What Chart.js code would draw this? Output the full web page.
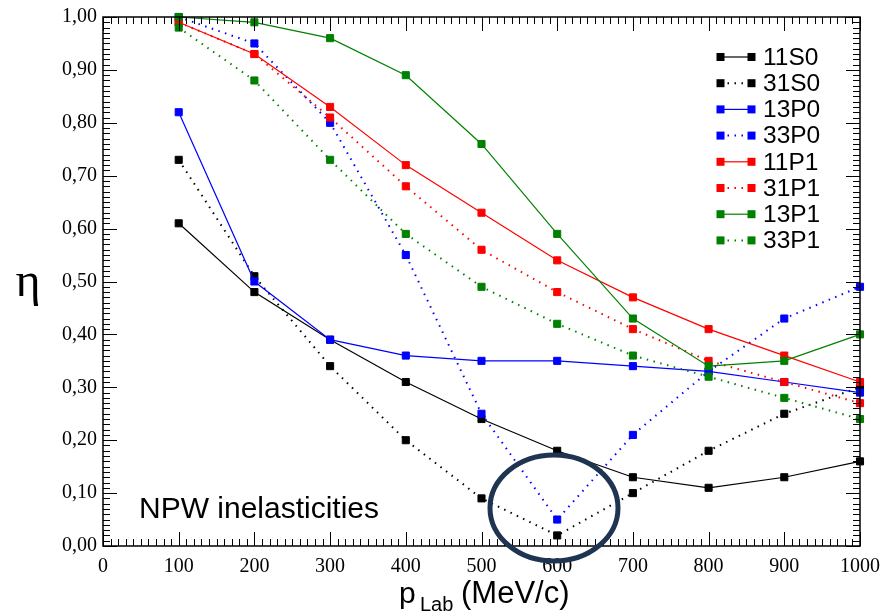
<!DOCTYPE html>
<html>
<head>
<meta charset="utf-8">
<script src="https://cdn.jsdelivr.net/npm/chart.js@4.4.1/dist/chart.umd.min.js"></script>
<style>
html,body{margin:0;padding:0;background:#fff;}
#wrap{width:885px;height:614px;position:relative;}
</style>
</head>
<body>
<div id="wrap"><canvas id="c" width="885" height="614"></canvas></div>
<script>
// ---- data ----
const pLab = [100, 200, 300, 400, 500, 600, 700, 800, 900, 1000];
const s11S0 = [0.61, 0.48, 0.39, 0.31, 0.24, 0.18, 0.13, 0.11, 0.13, 0.16];
const s31S0 = [0.73, 0.51, 0.34, 0.20, 0.09, 0.02, 0.10, 0.18, 0.25, 0.30];
const s13P0 = [0.82, 0.50, 0.39, 0.36, 0.35, 0.35, 0.34, 0.33, 0.31, 0.29];
const s33P0 = [1.00, 0.95, 0.80, 0.55, 0.25, 0.05, 0.21, 0.33, 0.43, 0.49];
const s11P1 = [0.99, 0.93, 0.83, 0.72, 0.63, 0.54, 0.47, 0.41, 0.36, 0.31];
const s31P1 = [0.99, 0.93, 0.81, 0.68, 0.56, 0.48, 0.41, 0.35, 0.31, 0.27];
const s13P1 = [1.00, 0.99, 0.96, 0.89, 0.76, 0.59, 0.43, 0.34, 0.35, 0.40];
const s33P1 = [0.98, 0.88, 0.73, 0.59, 0.49, 0.42, 0.36, 0.32, 0.28, 0.24];
const seriesNames = ['11S0', '31S0', '13P0', '33P0', '11P1', '31P1', '13P1', '33P1'];
const seriesValues = [s11S0, s31S0, s13P0, s33P0, s11P1, s31P1, s13P1, s33P1];
const xTickValues = [0, 100, 200, 300, 400, 500, 600, 700, 800, 900, 1000];
const yTickValues = [0, 0.1, 0.2, 0.3, 0.4, 0.5, 0.6, 0.7, 0.8, 0.9, 1.0];
const annotationText = 'NPW inelasticities';
const yTitle = '\u03b7';

// ---- styles ----
const colors = ['#000000', '#000000', '#0000ff', '#0000ff', '#ff0000', '#ff0000', '#008000', '#008000'];
const dotted = [false, true, false, true, false, true, false, true];
const DOT = [1.5, 5.5];

const datasets = seriesNames.map((name, i) => ({
  label: name,
  data: pLab.map((x, k) => ({x: x, y: seriesValues[i][k]})),
  borderColor: colors[i],
  backgroundColor: colors[i],
  borderWidth: dotted[i] ? 2 : 1.2,
  borderDash: dotted[i] ? DOT : [],
  borderCapStyle: 'butt',
  pointStyle: 'rect',
  pointRadius: 5,
  pointBorderWidth: 1,
  pointBorderColor: colors[i],
  pointBackgroundColor: colors[i],
  tension: 0,
  clip: false,
  order: seriesNames.length - 1 - i
}));

const SERIF = '"Liberation Serif", "Times New Roman", serif';
const SANS = '"Liberation Sans", Arial, sans-serif';

const decor = {
  id: 'decor',
  afterDraw(chart) {
    const ctx = chart.ctx;
    const xs = chart.scales.x, ys = chart.scales.y;
    const a = chart.chartArea;
    ctx.save();
    // frame
    ctx.strokeStyle = '#000';
    ctx.lineWidth = 1.5;
    ctx.strokeRect(a.left, a.top, a.right - a.left, a.bottom - a.top);
    // ticks
    ctx.lineWidth = 1;
    ctx.beginPath();
    for (let v = 0; v <= 1000; v += 10) {
      const px = Math.round(xs.getPixelForValue(v)) + 0.5;
      const L = (v % 100 === 0) ? 14 : 7;
      ctx.moveTo(px, a.bottom); ctx.lineTo(px, a.bottom - L);
      ctx.moveTo(px, a.top); ctx.lineTo(px, a.top + L);
    }
    for (let k = 0; k <= 100; k++) {
      const py = Math.round(ys.getPixelForValue(k / 100)) + 0.5;
      const L = (k % 10 === 0) ? 14 : 7;
      ctx.moveTo(a.left, py); ctx.lineTo(a.left + L, py);
      ctx.moveTo(a.right, py); ctx.lineTo(a.right - L, py);
    }
    ctx.stroke();

    // legend
    const lx1 = 720.5, lx2 = 751.5, ly0 = 57, dy = 26.2;
    chart.data.datasets.forEach((ds, i) => {
      const y = ly0 + i * dy;
      ctx.strokeStyle = ds.borderColor;
      ctx.lineWidth = ds.borderWidth;
      ctx.setLineDash(ds.borderDash || []);
      ctx.beginPath();
      ctx.moveTo(lx1, y); ctx.lineTo(lx2, y);
      ctx.stroke();
      ctx.setLineDash([]);
      ctx.fillStyle = ds.borderColor;
      ctx.fillRect(lx1 - 4, y - 4, 8, 8);
      ctx.fillRect(lx2 - 4, y - 4, 8, 8);
      ctx.fillStyle = '#000';
      ctx.font = '24.5px ' + SANS;
      ctx.textAlign = 'left';
      ctx.textBaseline = 'middle';
      ctx.fillText(ds.label, 763, y + 1);
    });

    // annotation text
    ctx.fillStyle = '#000';
    ctx.font = '30px ' + SANS;
    ctx.textAlign = 'left';
    ctx.textBaseline = 'alphabetic';
    ctx.fillText(annotationText, 139, 518);

    // y title
    ctx.font = '48px ' + SERIF;
    ctx.textAlign = 'center';
    ctx.fillText(yTitle, 28, 296);

    // x title with subscript
    ctx.textAlign = 'left';
    ctx.font = '30px ' + SANS;
    ctx.fillText('p', 399, 603);
    ctx.font = '20px ' + SANS;
    ctx.fillText('Lab', 420, 611);
    ctx.font = '31px ' + SANS;
    ctx.fillText('(MeV/c)', 461, 603);

    // highlight ellipse
    ctx.strokeStyle = '#1e3450';
    ctx.lineWidth = 5;
    ctx.beginPath();
    ctx.ellipse(554, 508, 64, 53, 0, 0, Math.PI * 2);
    ctx.stroke();
    ctx.restore();
  }
};

new Chart(document.getElementById('c'), {
  type: 'line',
  data: { datasets: datasets },
  options: {
    responsive: false,
    animation: false,
    devicePixelRatio: 1,
    layout: { padding: { top: 17, right: 25, left: 0, bottom: 0 } },
    plugins: { legend: { display: false }, tooltip: { enabled: false } },
    scales: {
      x: {
        type: 'linear', min: 0, max: 1000,
        afterBuildTicks: s => { s.ticks = xTickValues.map(v => ({value: v})); },
        afterFit: s => { s.height = 614 - 546; s.paddingLeft = 0; s.paddingRight = 0; },
        grid: { display: false, drawTicks: false },
        border: { display: false },
        ticks: {
          color: '#000', padding: 9, maxRotation: 0, autoSkip: false,
          font: { family: SERIF, size: 20 },
          callback: v => String(v)
        }
      },
      y: {
        type: 'linear', min: 0, max: 1,
        afterBuildTicks: s => { s.ticks = yTickValues.map(v => ({value: v})); },
        afterFit: s => { s.width = 103; s.paddingTop = 0; s.paddingBottom = 0; },
        grid: { display: false, drawTicks: false },
        border: { display: false },
        ticks: {
          color: '#000', padding: 6, autoSkip: false,
          font: { family: SERIF, size: 20 },
          callback: v => v.toFixed(2).replace('.', ',')
        }
      }
    }
  },
  plugins: [decor]
});
</script>
</body>
</html>
